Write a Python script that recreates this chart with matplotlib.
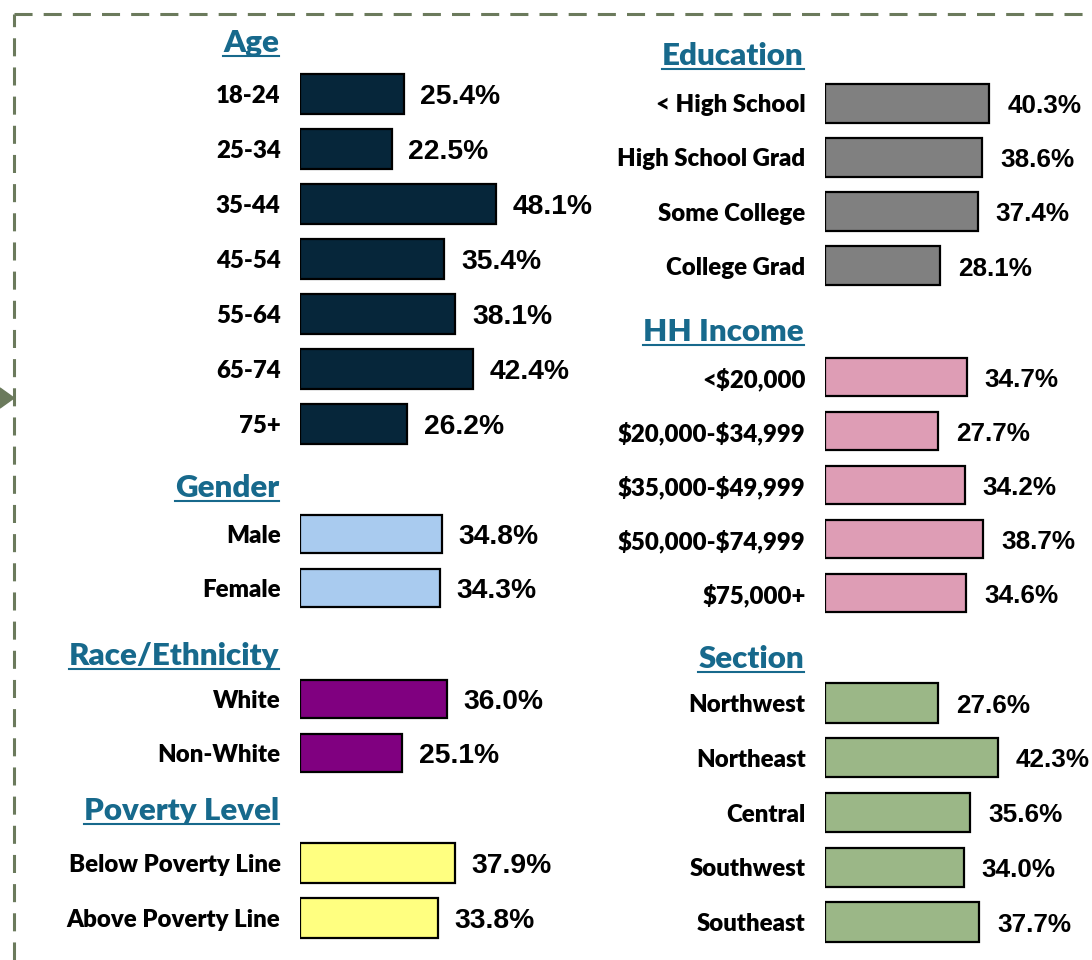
import matplotlib.pyplot as plt
from matplotlib import font_manager
from matplotlib.lines import Line2D
from matplotlib.patches import Polygon

plt.rcParams['lines.scale_dashes'] = False

W, H = 1092, 960

# data
age_labels = ["18-24", "25-34", "35-44", "45-54", "55-64", "65-74", "75+"]
age_vals = [25.4, 22.5, 48.1, 35.4, 38.1, 42.4, 26.2]
gender_labels = ["Male", "Female"]
gender_vals = [34.8, 34.3]
race_labels = ["White", "Non-White"]
race_vals = [36.0, 25.1]
poverty_labels = ["Below Poverty Line", "Above Poverty Line"]
poverty_vals = [37.9, 33.8]
edu_labels = ["< High School", "High School Grad", "Some College", "College Grad"]
edu_vals = [40.3, 38.6, 37.4, 28.1]
income_labels = ["<\\$20,000", "\\$20,000-\\$34,999", "\\$35,000-\\$49,999", "\\$50,000-\\$74,999", "\\$75,000+"]
income_vals = [34.7, 27.7, 34.2, 38.7, 34.6]
section_labels = ["Northwest", "Northeast", "Central", "Southwest", "Southeast"]
section_vals = [27.6, 42.3, 35.6, 34.0, 37.7]

fig = plt.figure(figsize=(W / 100, H / 100), dpi=100)

PX_PER_PCT = 4.08
LABEL_FONT = "Lato"
TITLE_COLOR = "#17698C"

# right-hand values use a narrow face if one is around
try:
    font_manager.findfont(font_manager.FontProperties(family="Liberation Sans Narrow", weight="bold"),
                          fallback_to_default=False)
    NARROW, NARROW_SIZE = "Liberation Sans Narrow", 22
except Exception:
    NARROW, NARROW_SIZE = "Liberation Sans", 18.8


def panel(x0, top, bottom, labels, vals, color, title, title_y, right=False):
    width = 270
    ax = fig.add_axes([x0 / W, 1 - bottom / H, width / W, (bottom - top) / H])
    n = len(vals)
    ax.barh(range(n), vals, height=0.72, color=color, edgecolor="black", linewidth=1.6)
    ax.set_xlim(0, width / PX_PER_PCT)
    ax.set_ylim(n - 0.5, -0.5)
    ax.set_yticks(range(n))
    ax.set_yticklabels(labels, fontfamily=LABEL_FONT, fontweight=800, fontsize=17.3)
    ax.tick_params(axis="y", length=0, pad=14)
    ax.set_xticks([])
    for s in ax.spines.values():
        s.set_visible(False)
    for i, v in enumerate(vals):
        if right:
            ax.annotate(f"{v:.1f}%", (v, i), xytext=(13, -2), textcoords="offset points",
                        ha="left", va="center", fontsize=NARROW_SIZE, fontweight="bold",
                        family=NARROW)
        else:
            ax.annotate(f"{v:.1f}%", (v, i), xytext=(12, -2.5), textcoords="offset points",
                        ha="left", va="center", fontsize=20.3, fontweight="bold",
                        family="Liberation Sans")
    t = fig.text((x0 - 21) / W, 1 - title_y / H, title, ha="right", va="center",
                 fontsize=22.5, fontweight=800, fontfamily=LABEL_FONT, color=TITLE_COLOR)
    return t


titles = []
titles.append(panel(300, 66.5, 451.5, age_labels, age_vals, "#06263A", "Age", 43))
titles.append(panel(300, 507, 615, gender_labels, gender_vals, "#A9CBEF", "Gender", 488))
titles.append(panel(300, 672, 780, race_labels, race_vals, "#800080", "Race/Ethnicity", 656))
titles.append(panel(300, 835.5, 945.5, poverty_labels, poverty_vals, "#FFFF80", "Poverty Level", 811))
titles.append(panel(825, 76, 293, edu_labels, edu_vals, "#808080", "Education", 56, right=True))
titles.append(panel(825, 350, 620, income_labels, income_vals, "#DE9DB5", "HH Income", 332, right=True))
titles.append(panel(825, 675.5, 949.5, section_labels, section_vals, "#9BB787", "Section", 659, right=True))

# underline the titles
fig.canvas.draw()
r = fig.canvas.get_renderer()
for t in titles:
    bb = t.get_window_extent(r)
    y = bb.y0 + 1
    fig.add_artist(Line2D([bb.x0 / W, bb.x1 / W], [y / H, y / H], color=TITLE_COLOR, lw=1.5))

# dashed frame and arrow
border = "#6B7A5C"
fig.add_artist(Line2D([14 / W, 14 / W], [0, 1 - 14 / H], color=border, lw=2.2,
                      linestyle=(0, (13, 8))))
fig.add_artist(Line2D([14 / W, 1], [1 - 14 / H, 1 - 14 / H], color=border, lw=2.2,
                      linestyle=(0, (13, 8))))
fig.add_artist(Polygon([[0, 1 - 388 / H], [14 / W, 1 - 398 / H], [0, 1 - 408 / H]],
                       closed=True, color=border, transform=fig.transFigure))

fig.savefig("out.png", dpi=100)
